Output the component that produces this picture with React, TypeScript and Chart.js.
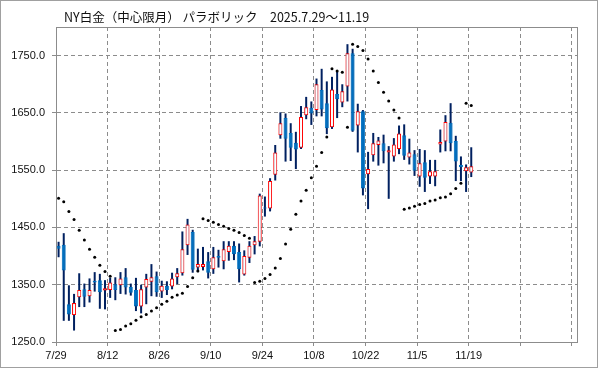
import { useEffect, useRef } from "react";
import { Chart, registerables } from "chart.js";

Chart.register(...registerables);

const titleText = "NY白金（中心限月） パラボリック　2025.7.29～11.19";

const dates = [
  "7/29","7/30","7/31","8/1","8/4","8/5","8/6","8/7","8/8","8/11",
  "8/12","8/13","8/14","8/15","8/18","8/19","8/20","8/21","8/22","8/25",
  "8/26","8/27","8/28","8/29","9/2","9/3","9/4","9/5","9/8","9/9",
  "9/10","9/11","9/12","9/15","9/16","9/17","9/18","9/19","9/22","9/23",
  "9/24","9/25","9/26","9/29","9/30","10/1","10/2","10/3","10/6","10/7",
  "10/8","10/9","10/10","10/13","10/14","10/15","10/16","10/17","10/20","10/21",
  "10/22","10/23","10/24","10/27","10/28","10/29","10/30","10/31","11/3","11/4",
  "11/5","11/6","11/7","11/10","11/11","11/12","11/13","11/14","11/17","11/18",
  "11/19",
];

const opens = [
  1418,1420,1316,1297,1328,1342,1330,1357,1358,1340,
  1341,1351,1349,1363,1346,1341,1312,1345,1355,1365,
  1338,1348,1347,1363,1370,1419,1442,1380,1381,1391,
  1377,1400,1391,1407,1418,1407,1368,1397,1419,1425,
  1485,1483,1542,1611,1641,1615,1598,1589,1646,1659,
  1655,1690,1667,1625,1683,1668,1696,1754,1628,1653,
  1543,1576,1594,1597,1581,1574,1587,1611,1572,1578,
  1539,1564,1539,1539,1595,1600,1633,1601,1559,1548,
  1546,
];

const highs = [
  1425,1440,1349,1334,1370,1352,1361,1372,1369,1358,
  1362,1363,1372,1379,1352,1362,1350,1369,1386,1373,
  1357,1356,1371,1379,1443,1465,1446,1413,1416,1407,
  1416,1411,1426,1426,1426,1422,1410,1426,1435,1509,
  1504,1536,1594,1651,1649,1632,1617,1662,1678,1670,
  1710,1727,1705,1713,1723,1700,1770,1762,1666,1655,
  1582,1615,1608,1612,1592,1606,1628,1630,1605,1585,
  1587,1585,1568,1568,1621,1646,1667,1610,1574,1560,
  1590,
];

const lows = [
  1398,1287,1287,1270,1311,1311,1319,1338,1308,1307,
  1327,1323,1334,1333,1331,1304,1300,1316,1330,1329,
  1327,1332,1342,1351,1366,1402,1371,1372,1375,1361,
  1369,1380,1377,1392,1393,1354,1366,1388,1403,1417,
  1469,1478,1532,1605,1565,1566,1552,1587,1639,1629,
  1644,1644,1613,1622,1641,1660,1670,1617,1581,1506,
  1482,1565,1558,1562,1500,1565,1578,1568,1560,1540,
  1521,1512,1526,1522,1581,1583,1583,1531,1531,1512,
  1538,
];

const closes = [
  1413,1375,1298,1318,1341,1329,1341,1354,1337,1344,
  1354,1341,1361,1345,1336,1312,1342,1360,1363,1337,
  1348,1341,1361,1370,1412,1455,1376,1386,1386,1371,
  1398,1397,1412,1418,1403,1377,1400,1418,1426,1506,
  1483,1531,1581,1632,1605,1589,1586,1643,1660,1649,
  1700,1656,1623,1691,1674,1688,1754,1619,1653,1518,
  1552,1597,1602,1583,1585,1595,1614,1575,1581,1549,
  1562,1537,1548,1548,1599,1634,1597,1565,1555,1555,
  1557,
];

const sar = [
  1501,1495,1478,1464,1445,1428,1412,1398,1384,1373,
  1365,1270,1272,1278,1282,1288,1294,1298,1304,1310,
  1316,1321,1328,1332,1335,1347,1362,1374,1465,1462,
  1459,1455,1452,1448,1445,1441,1436,1431,1354,1356,
  1361,1368,1379,1396,1421,1447,1473,1496,1515,1537,
  1557,1581,1608,1727,1723,1721,1625,1770,1766,1759,
  1744,1723,1703,1686,1671,1655,1641,1482,1484,1487,
  1490,1492,1496,1498,1502,1503,1509,1518,1527,1667,
  1663,
];

// x axis: 101 day slots, a labelled grid line every 10 trading days
const slotCount = 101;
const labelEvery = 10;
const xTickPositions = Array.from({ length: 11 }, (_, k) => k * labelEvery - 0.5);
const xTickLabels = xTickPositions.map((_, k) => dates[k * labelEvery] ?? "");
const yTicks = [1250, 1350, 1450, 1550, 1650, 1750];
const yMin = 1250;
const yMax = 1800;

const GRID = "#8c8c8c";
const UP_BORDER = "#ff0000";
const DOWN_FILL = "#0070c0";
const WICK = "#002060";
const FONT = "'Liberation Sans', Arial, sans-serif";

const framePlugin = {
  id: "frame",
  beforeDraw(chart: any) {
    const ctx = chart.ctx;
    ctx.save();
    ctx.fillStyle = "#ffffff";
    ctx.fillRect(0, 0, chart.width, chart.height);
    ctx.restore();
  },
  afterDraw(chart: any) {
    const ctx = chart.ctx;
    const { left, top, right, bottom } = chart.chartArea;
    ctx.save();
    ctx.strokeStyle = GRID;
    ctx.lineWidth = 1;
    const l = Math.round(left), t = Math.round(top), r = Math.round(right), b = Math.round(bottom);
    ctx.strokeRect(l + 0.5, t + 0.5, r - l, b - t);
    ctx.strokeStyle = "#a0a0a0";
    ctx.strokeRect(0.5, 0.5, chart.width - 2, chart.height - 2);
    ctx.fillStyle = "#111";
    ctx.font = "12.5px 'Noto Sans CJK JP', sans-serif";
    ctx.textBaseline = "middle";
    ctx.textAlign = "left";
    ctx.fillText(titleText, 64, 17);
    ctx.restore();
  },
};

export default function App() {
  const ref = useRef<HTMLCanvasElement>(null);

  useEffect(() => {
    const idx = dates.map((_, i) => i);
    const isUp = (i: number) => closes[i] >= opens[i];
    const chart = new Chart(ref.current!, {
      type: "bar",
      data: {
        datasets: [
          {
            type: "line",
            label: "SAR",
            data: idx.map((i) => ({ x: i, y: sar[i] })),
            showLine: false,
            pointRadius: 1.5,
            pointBackgroundColor: "#000",
            pointBorderWidth: 0,
            order: 0,
          } as any,
          {
            type: "bar",
            label: "body",
            data: idx.map((i) => ({ x: i, y: [Math.min(opens[i], closes[i]), Math.max(opens[i], closes[i])] })),
            backgroundColor: idx.map((i) => (isUp(i) ? "#ffffff" : DOWN_FILL)),
            borderColor: idx.map((i) => (isUp(i) ? UP_BORDER : DOWN_FILL)),
            borderWidth: 1,
            borderSkipped: false,
            barThickness: 4,
            grouped: false,
            inflateAmount: 0,
            order: 1,
          } as any,
          {
            type: "bar",
            label: "wick",
            data: idx.map((i) => ({ x: i, y: [lows[i], highs[i]] })),
            backgroundColor: WICK,
            borderWidth: 0,
            barThickness: 2,
            grouped: false,
            inflateAmount: 0,
            order: 2,
          } as any,
        ],
      },
      options: {
        responsive: false,
        animation: false,
        devicePixelRatio: 1,
        layout: { padding: { left: 0, right: 22, top: 27, bottom: 0 } },
        plugins: {
          legend: { display: false },
          tooltip: { enabled: false },
          title: { display: false },
        },
        scales: {
          x: {
            type: "linear",
            min: -0.5,
            max: slotCount - 0.5,
            offset: false,
            grid: { color: GRID, offset: false, tickLength: 4, tickColor: GRID, borderDash: [4, 3] } as any,
            border: { color: GRID, dash: [4, 3] },
            ticks: {
              autoSkip: false,
              maxRotation: 0,
              padding: 3,
              color: "#111",
              font: { family: FONT, size: 11 },
              callback: (_v: any, i: number) => xTickLabels[i] ?? "",
            },
            afterBuildTicks: (s: any) => {
              s.ticks = xTickPositions.map((v) => ({ value: v }));
            },
            afterFit: (s: any) => {
              s.height = 27;
            },
          },
          y: {
            type: "linear",
            min: yMin,
            max: yMax,
            grid: { color: GRID, tickLength: 4, tickColor: GRID, borderDash: [4, 3] } as any,
            border: { color: GRID, dash: [4, 3] },
            ticks: {
              padding: 7,
              color: "#111",
              font: { family: FONT, size: 11 },
              callback: (v: any) => Number(v).toFixed(1),
            },
            afterBuildTicks: (s: any) => {
              s.ticks = yTicks.map((v) => ({ value: v }));
            },
            afterFit: (s: any) => {
              s.width = 56;
            },
          },
        },
      } as any,
      plugins: [framePlugin],
    });
    return () => chart.destroy();
  }, []);

  return (
    <div style={{ position: "fixed", left: 0, top: 0, width: 599, height: 369 }}>
      <canvas ref={ref} width={599} height={369} style={{ display: "block" }} />
    </div>
  );
}
